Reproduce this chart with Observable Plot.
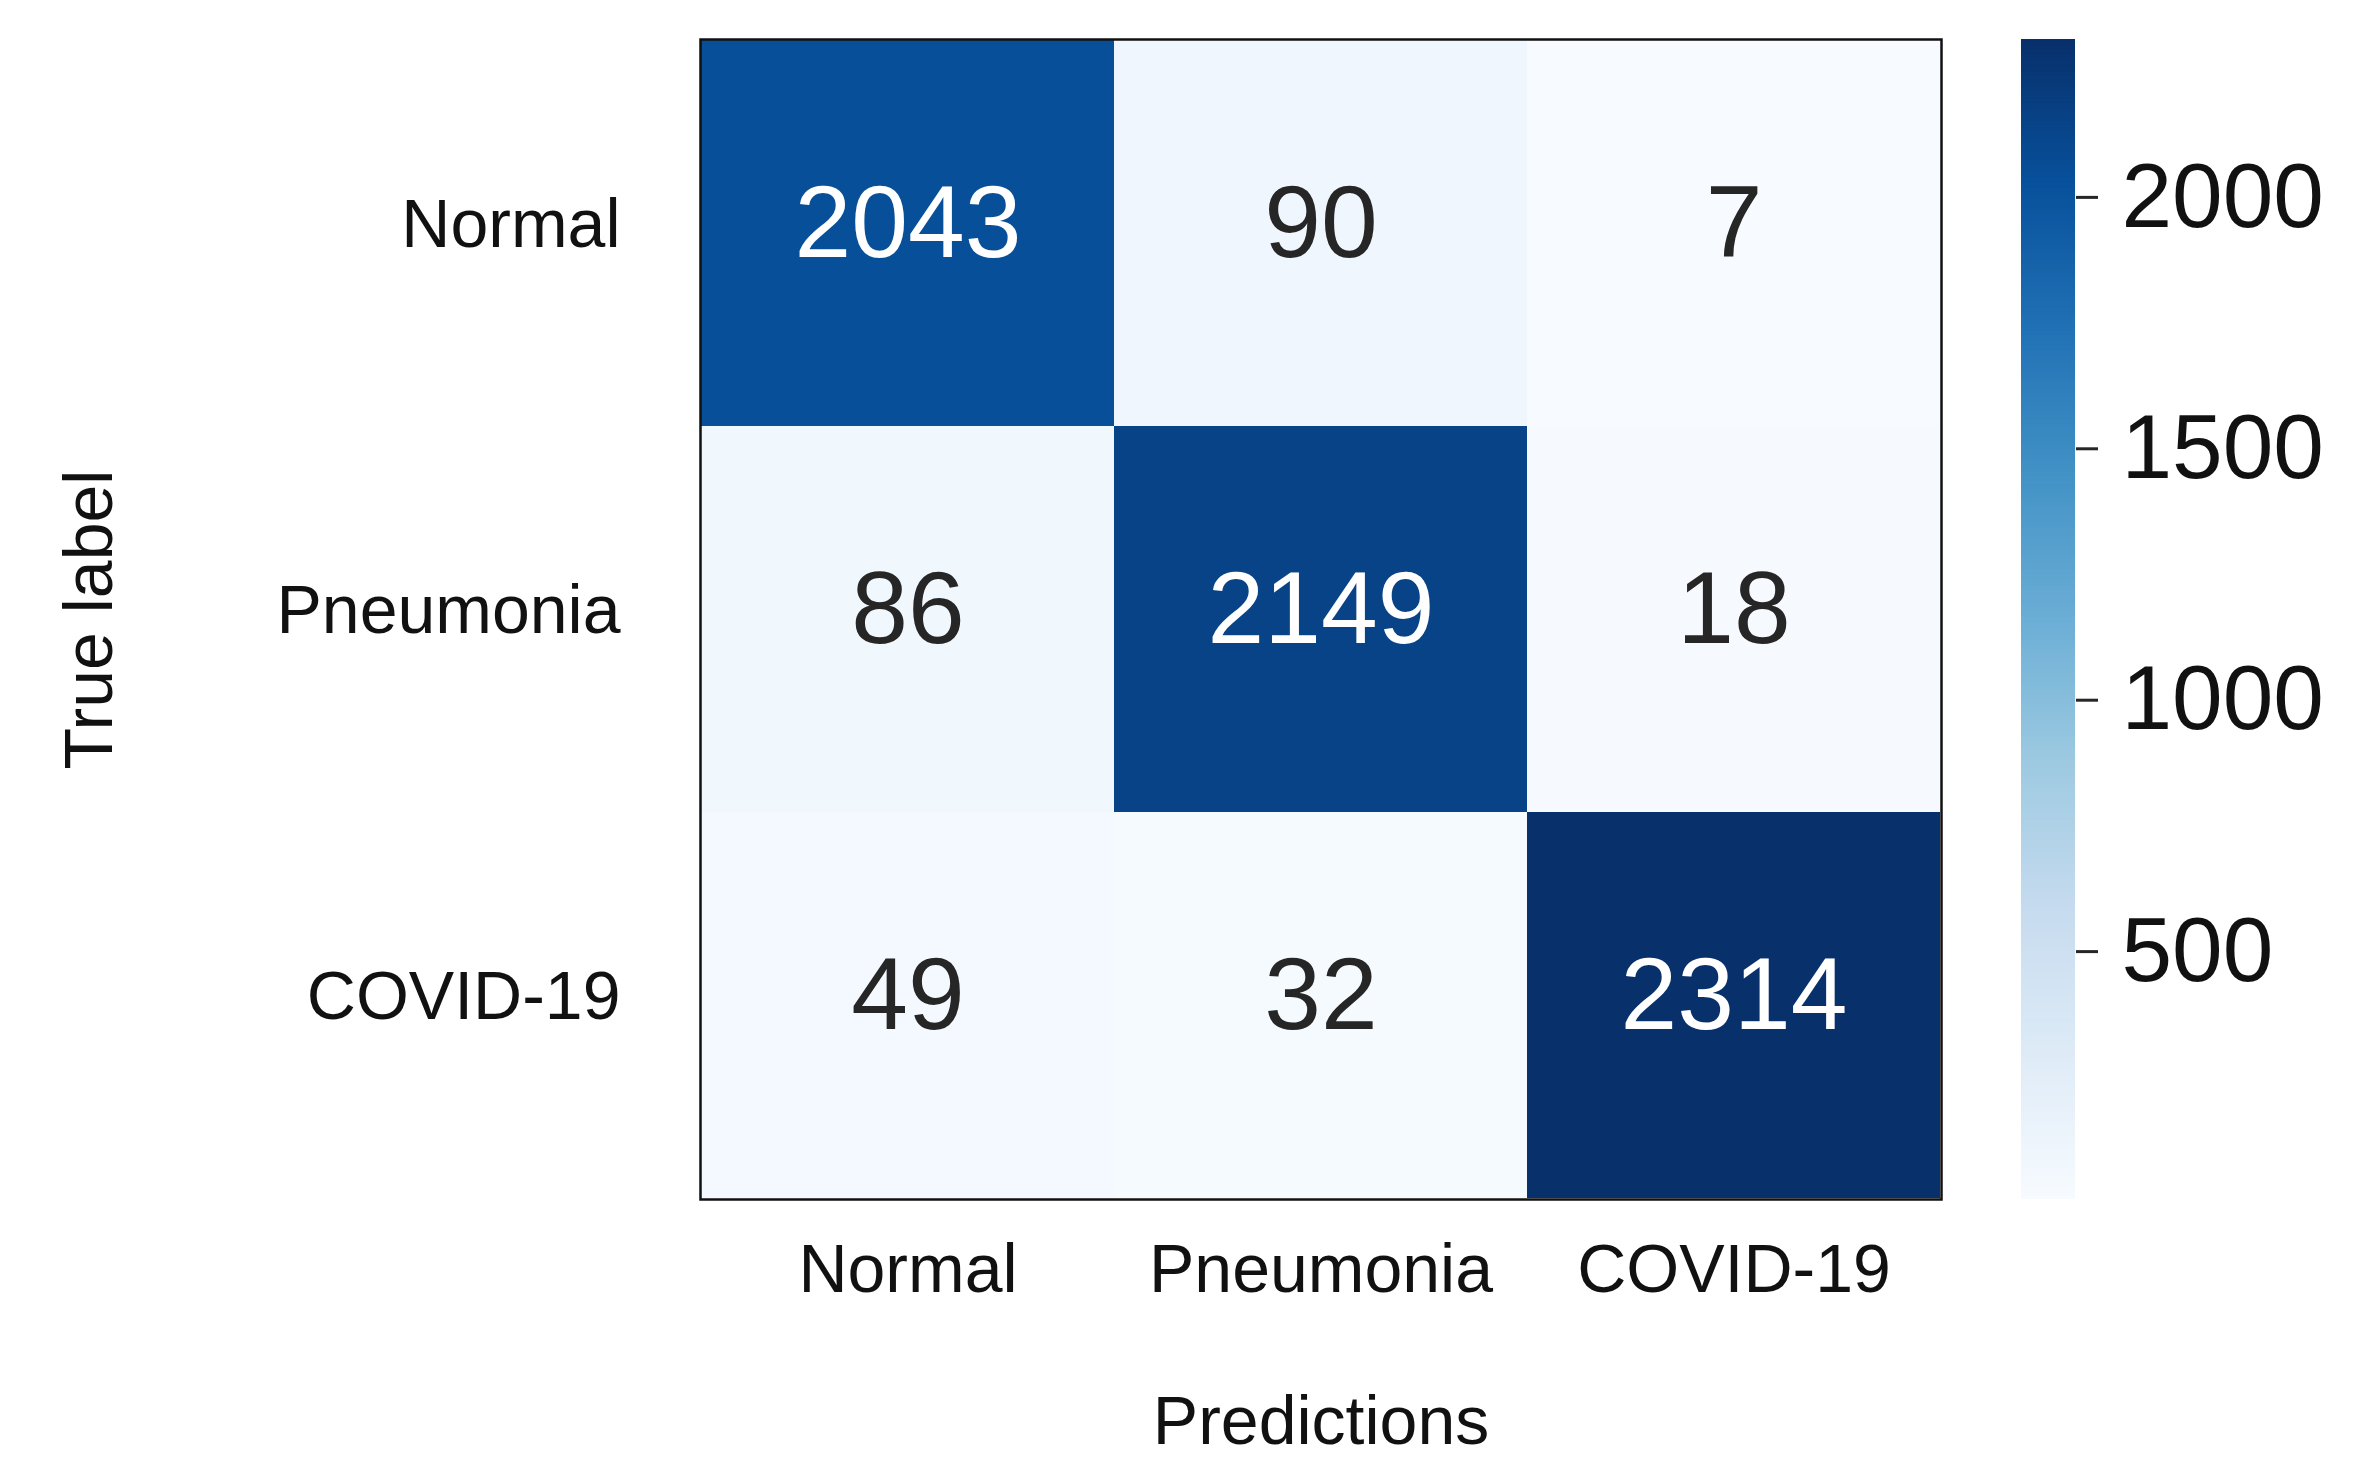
<!DOCTYPE html>
<html>
<head>
<meta charset="utf-8">
<script src="https://cdn.jsdelivr.net/npm/d3@7"></script>
<script src="https://cdn.jsdelivr.net/npm/@observablehq/plot@0.6"></script>
<style>
  html, body { margin: 0; padding: 0; background: #fff; }
  #wrap { position: relative; width: 2370px; height: 1476px; font-family: "Liberation Sans", Arial, sans-serif; }
  #main { position: absolute; left: 0; top: 0; }
  #cbar { position: absolute; left: 2000px; top: 0; }
</style>
</head>
<body>
<div id="wrap"><div id="main"></div><div id="cbar"></div></div>
<script>
// ---- data ----
const trueLabels = ["Normal", "Pneumonia", "COVID-19"];
const predLabels = ["Normal", "Pneumonia", "COVID-19"];
const rowNormal = [2043, 90, 7];
const rowPneumonia = [86, 2149, 18];
const rowCovid = [49, 32, 2314];
const colorbarTicks = [500, 1000, 1500, 2000];
const xTitle = "Predictions";
const yTitle = "True label";

const matrix = [rowNormal, rowPneumonia, rowCovid];
const cells = [];
matrix.forEach((row, i) => row.forEach((v, j) => cells.push({t: trueLabels[i], p: predLabels[j], v})));
const vmin = d3.min(cells, d => d.v), vmax = d3.max(cells, d => d.v);

// matplotlib "Blues" (linear segmented through ColorBrewer stops)
const bluesStops = ["#f7fbff","#deebf7","#c6dbef","#9ecae1","#6baed6","#4292c6","#2171b5","#08519c","#08306b"];
const blues = d3.piecewise(d3.interpolateRgb, bluesStops);
const colorOpts = {type: "linear", domain: [vmin, vmax], interpolate: blues};

const font = "Liberation Sans, Arial, sans-serif";

const main = Plot.plot({
  width: 2000, height: 1476,
  marginLeft: 700, marginRight: 59, marginTop: 39, marginBottom: 277,
  style: {fontFamily: font, background: "white", color: "#111"},
  x: {domain: predLabels, padding: 0},
  y: {domain: trueLabels, padding: 0},
  color: colorOpts,
  marks: [
    Plot.cell(cells, {x: "p", y: "t", fill: "v", inset: 0}),
    Plot.text(cells, {
      x: "p", y: "t", text: d => String(d.v), fontSize: 102, dy: -9,
      fill: d => (blues((d.v - vmin) / (vmax - vmin)) && (d.v - vmin) / (vmax - vmin) > 0.6) ? "white" : "#262626"
    }),
    Plot.frame({stroke: "#111", strokeWidth: 2.5}),
    Plot.axisX({anchor: "bottom", tickSize: 0, tickPadding: 44, fontSize: 68, fill: "#111",
      label: xTitle, labelAnchor: "center", labelArrow: "none", labelOffset: 244}),
    Plot.axisY({anchor: "left", tickSize: 0, tickPadding: 80, fontSize: 68, fill: "#111", dy: -8,
      label: yTitle, labelAnchor: "center", labelArrow: "none", labelOffset: 637})
  ]
});
document.getElementById("main").appendChild(main);

// colorbar
const nSteps = 600;
const step = (vmax - vmin) / nSteps;
const stops = d3.range(nSteps).map(i => vmin + i * step);
const cbar = Plot.plot({
  width: 370, height: 1476,
  marginLeft: 21, marginRight: 295, marginTop: 39, marginBottom: 277,
  style: {fontFamily: font, background: "transparent", color: "#111"},
  x: {domain: [0, 1], axis: null},
  y: {domain: [vmin, vmax]},
  color: colorOpts,
  marks: [
    Plot.rect(stops, {x1: 0, x2: 1, y1: d => d, y2: d => Math.min(vmax, d + step * 1.5), fill: d => d + step / 2}),
    Plot.axisY({anchor: "right", ticks: colorbarTicks, tickSize: 22, tickPadding: 24, strokeWidth: 3,
      stroke: "#262626", fontSize: 91, fill: "#111", label: null, tickFormat: d => String(d)})
  ]
});
document.getElementById("cbar").appendChild(cbar);
</script>
</body>
</html>
